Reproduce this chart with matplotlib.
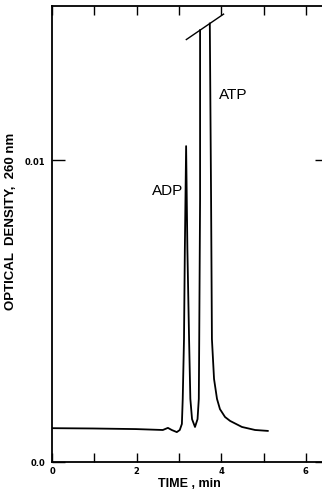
import matplotlib
matplotlib.use("Agg")
import matplotlib.pyplot as plt
import numpy as np

# chromatogram trace (time in min, optical density)
# NaN marks where the ATP peak goes off scale (broken peak)
time_min = [0.0, 0.97, 1.98, 2.62, 2.74, 2.83, 2.95, 3.02, 3.07, 3.09, 3.12,
            3.14, 3.17, 3.20, 3.24, 3.27, 3.31, 3.38, 3.44, 3.47, 3.48, 3.50,
            3.50, np.nan, 3.73, 3.76, 3.78, 3.83, 3.90, 3.97, 4.09, 4.21,
            4.49, 4.80, 5.10]
od_260 = [0.00112, 0.00111, 0.00109, 0.00106, 0.00113, 0.00106, 0.00099,
          0.00106, 0.00126, 0.00209, 0.00407, 0.00705, 0.01046, 0.00705,
          0.00407, 0.00209, 0.00142, 0.00116, 0.00142, 0.00209, 0.00407,
          0.00871, 0.01430, np.nan, 0.01452, 0.00871, 0.00407, 0.00275,
          0.00209, 0.00175, 0.00149, 0.00136, 0.00116, 0.00106, 0.00103]

peak_names = ["ADP", "ATP"]
peak_label_t = [3.09, 3.95]
peak_label_od = [0.0090, 0.0122]

x_major = [0, 2, 4, 6]
x_minor = [1, 3, 5]
y_ticks = [0.0, 0.01]
y_ticklabels = ["0.0", "0.01"]

fig = plt.figure(figsize=(3.22, 5.02), dpi=100)
ax = fig.add_axes([52 / 322, 39 / 502, 275 / 322, 456 / 502])

t = np.array(time_min)
od = np.array(od_260)
ax.plot(t, od, color="black", lw=1.3)

# break mark across the truncated ATP peak
i = np.where(np.isnan(t))[0][0]
t0, y0, t1, y1 = t[i - 1], od[i - 1], t[i + 1], od[i + 1]
slope = (y1 - y0) / (t1 - t0)
tm, ym = (t0 + t1) / 2, (y0 + y1) / 2
ext = 0.44
ax.plot([tm - ext, tm + ext], [ym - ext * slope, ym + ext * slope],
        color="black", lw=1.0, clip_on=False)

for name, tx, ty in zip(peak_names, peak_label_t, peak_label_od):
    ha = "right" if name == "ADP" else "left"
    ax.text(tx, ty, name, ha=ha, va="center", fontsize=11,
            family="Liberation Sans")

ax.set_xlim(0, 6.5)
ax.set_ylim(0, 0.0151)

ax.set_xticks(x_major)
ax.set_xticks(x_minor, minor=True)
ax.set_xticklabels([str(v) for v in x_major], fontsize=6, fontweight="bold")
ax.set_yticks(y_ticks)
ax.set_yticklabels(y_ticklabels, fontsize=6, fontweight="bold")
ax.tick_params(axis="both", which="both", direction="in", length=6.5,
               width=1.0, top=True, right=True, pad=3)
ax.tick_params(axis="y", length=9, pad=5)

for s in ax.spines.values():
    s.set_linewidth(1.3)

ax.set_xlabel("TIME , min", fontsize=9, family="Liberation Sans",
              fontweight="bold", labelpad=1)
ax.set_ylabel("OPTICAL  DENSITY,  260 nm", fontsize=9.5,
              family="Liberation Sans", fontweight="bold")
ax.yaxis.set_label_coords(-0.128, 0.53)

fig.savefig("out.png", dpi=100)
